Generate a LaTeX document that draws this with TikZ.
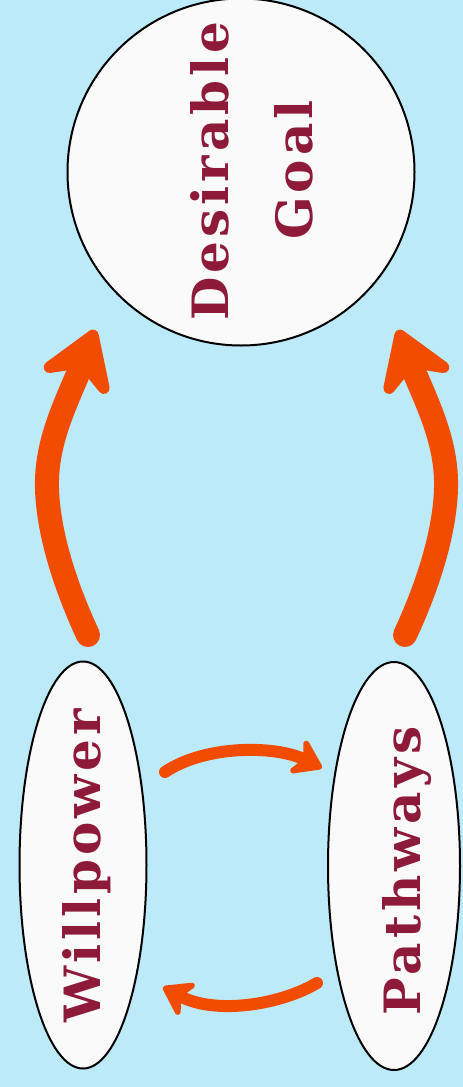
\documentclass[tikz,border=0pt]{standalone}
\usepackage{fontspec}
\setmainfont{DejaVu Serif}
\usetikzlibrary{arrows.meta,shapes.geometric}
\definecolor{bgblue}{RGB}{188,234,249}
\definecolor{lbl}{RGB}{142,26,58}
\definecolor{arr}{RGB}{242,76,0}
\definecolor{nodefill}{RGB}{250,250,250}
\begin{document}
\begin{tikzpicture}[x=1pt,y=-1pt,
  shapebox/.style={draw=black, line width=2pt, fill=nodefill, inner sep=0pt},
  lab/.style={text=lbl, font=\fontsize{50}{60}\selectfont\bfseries\addfontfeatures{LetterSpace=8}, rotate=90, anchor=base, inner sep=0pt},
  bigarrow/.style={draw=arr, line width=24pt, line cap=round, -{Stealth[length=72pt,width=92pt,inset=26pt,round]}},
  smallarrow/.style={draw=arr, line width=12pt, line cap=round, -{Stealth[length=34pt,width=46pt,inset=11pt,round]}}]
\fill[bgblue] (0,0) rectangle (463,1087);
\useasboundingbox (0,0) rectangle (463,1087);

\node[shapebox, circle, minimum size=347pt] (goal) at (241,172) {};
\node[lab] (desir) at (228,171) {Desirable};
\node[lab] (goalt) at (312,170) {Goal};

\node[shapebox, ellipse, rotate=90, minimum width=407pt, minimum height=127pt] (will) at (83,865) {};
\node[lab] (willt) at (100,866) {Willpower};

\node[shapebox, ellipse, rotate=90, minimum width=408pt, minimum height=132pt] (path) at (394,866) {};
\node[lab] (patht) at (420,871) {Pathways};

% arrow end points
\coordinate (wUp) at (88,635);
\coordinate (gL) at (95,330);
\coordinate (pUp) at (405,635);
\coordinate (gR) at (398,330);
\coordinate (wR) at (165,772);
\coordinate (pL) at (322,768);
\coordinate (pL2) at (317,983);
\coordinate (wR2) at (163,987);

\draw[bigarrow] (wUp) .. controls (60,575) and (46,520) .. (47,480)
                      .. controls (48,435) and (70,395) .. (gL);
\draw[bigarrow] (pUp) .. controls (433,575) and (447,520) .. (446,480)
                      .. controls (445,435) and (423,395) .. (gR);
\draw[smallarrow] (wR) .. controls (205,745) and (275,745) .. (pL);
\draw[smallarrow] (pL2) .. controls (280,1005) and (215,1015) .. (wR2);
\end{tikzpicture}
\end{document}
